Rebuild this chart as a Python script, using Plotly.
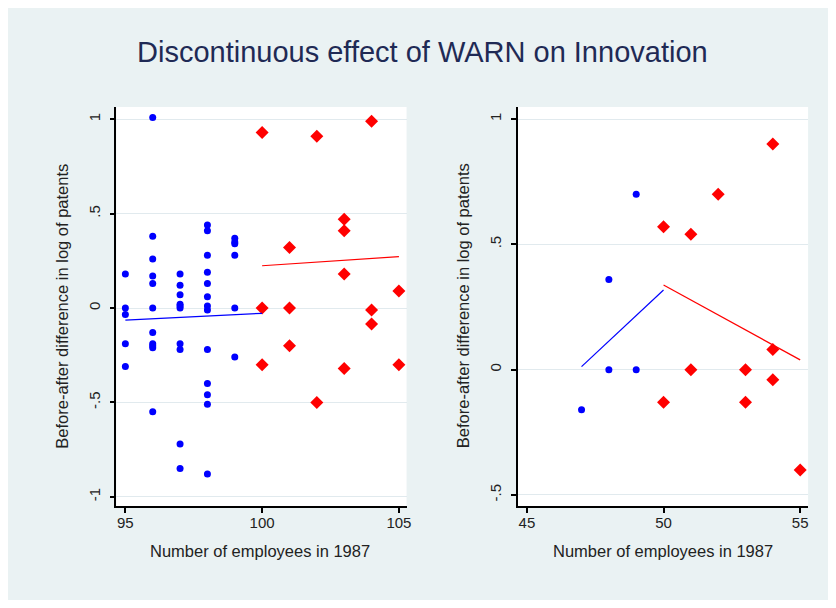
import plotly.graph_objects as go

# ---- Left panel data (firms around 100 employees) ----
left_blue_x = [95]*5 + [96]*11 + [97]*10 + [98]*13 + [99]*6
left_blue_y = [0.18, 0.0, -0.035, -0.19, -0.31,
               1.01, 0.38, 0.26, 0.17, 0.13, 0.0, -0.13, -0.19, -0.20, -0.21, -0.55,
               0.18, 0.12, 0.07, 0.02, 0.0, 0.01, -0.19, -0.22, -0.72, -0.85,
               0.44, 0.41, 0.28, 0.19, 0.13, 0.06, 0.01, -0.01, -0.22, -0.40, -0.46, -0.51, -0.88,
               0.37, 0.35, 0.34, 0.28, 0.0, -0.26]
left_red_x = [100, 100, 100, 101, 101, 101, 102, 102, 103, 103, 103, 103, 104, 104, 104, 105, 105]
left_red_y = [0.93, 0.0, -0.30, 0.32, 0.0, -0.20, 0.91, -0.50, 0.47, 0.41, 0.18, -0.32,
              0.99, -0.01, -0.085, 0.09, -0.30]
left_fit_blue_x = [95, 100]
left_fit_blue_y = [-0.064, -0.028]
left_fit_red_x = [100, 105]
left_fit_red_y = [0.224, 0.272]

# ---- Right panel data (firms around 50 employees) ----
right_blue_x = [47, 48, 48, 49, 49]
right_blue_y = [-0.16, 0.36, 0.0, 0.70, 0.0]
right_red_x = [50, 50, 51, 51, 52, 53, 53, 54, 54, 54, 55]
right_red_y = [0.57, -0.13, 0.54, 0.0, 0.70, 0.0, -0.13, 0.90, 0.08, -0.04, -0.40]
right_fit_blue_x = [47, 50]
right_fit_blue_y = [0.012, 0.318]
right_fit_red_x = [50, 55]
right_fit_red_y = [0.338, 0.039]

left_yticks = [-1, -0.5, 0, 0.5, 1]
left_yticktext = ["-1", "-.5", "0", ".5", "1"]
right_yticks = [-0.5, 0, 0.5, 1]
right_yticktext = ["-.5", "0", ".5", "1"]
left_xticks = [95, 100, 105]
right_xticks = [45, 50, 55]

title_text = "Discontinuous effect of WARN on Innovation"
xtitle = "Number of employees in 1987"
ytitle = "Before-after difference in log of patents"

BG = "#eaf2f3"
GRID = "#e1eaee"
FONT = "Liberation Sans, Arial, sans-serif"
BLUE = "#0000ff"
RED = "#ff0000"

fig = go.Figure()

def add_panel(bx, by, rx, ry, fbx, fby, frx, fry, xa, ya):
    fig.add_trace(go.Scatter(x=bx, y=by, mode="markers", xaxis=xa, yaxis=ya,
                             marker=dict(symbol="circle", size=7, color=BLUE), showlegend=False))
    fig.add_trace(go.Scatter(x=rx, y=ry, mode="markers", xaxis=xa, yaxis=ya,
                             marker=dict(symbol="diamond", size=10, color=RED), showlegend=False))
    fig.add_trace(go.Scatter(x=fbx, y=fby, mode="lines", xaxis=xa, yaxis=ya,
                             line=dict(color=BLUE, width=1.2), showlegend=False))
    fig.add_trace(go.Scatter(x=frx, y=fry, mode="lines", xaxis=xa, yaxis=ya,
                             line=dict(color=RED, width=1.2), showlegend=False))

add_panel(left_blue_x, left_blue_y, left_red_x, left_red_y,
          left_fit_blue_x, left_fit_blue_y, left_fit_red_x, left_fit_red_y, "x", "y")
add_panel(right_blue_x, right_blue_y, right_red_x, right_red_y,
          right_fit_blue_x, right_fit_blue_y, right_fit_red_x, right_fit_red_y, "x2", "y2")

# page has an 8px body margin; screen coordinates are converted to figure coordinates
OFF = 8
W, H = 836 - 2 * OFF, 608 - 2 * OFF
def px(xp):
    return (xp - OFF) / W
def py(yp):
    return 1 - (yp - OFF) / H

axis_common = dict(showline=True, linecolor="#000", linewidth=1.5, ticks="outside",
                   ticklen=5, tickwidth=1.5, tickcolor="#000", zeroline=False,
                   tickfont=dict(family=FONT, size=15, color="#222"))

fig.update_layout(
    width=W, height=H,
    margin=dict(l=0, r=0, t=0, b=0),
    paper_bgcolor=BG, plot_bgcolor="white",
    font=dict(family=FONT, color="#222"),
    xaxis=dict(domain=[px(117), px(409)], range=[94.67, 105.28], tickvals=left_xticks,
               showgrid=False, anchor="y", ticklabelstandoff=-3, **axis_common),
    yaxis=dict(domain=[py(506), py(107)], range=[-1.049, 1.065], tickvals=left_yticks,
               ticktext=left_yticktext, tickangle=-90, showgrid=True, gridcolor=GRID,
               gridwidth=1.2, anchor="x", ticklabelstandoff=4, **axis_common),
    xaxis2=dict(domain=[px(521), px(813)], range=[44.67, 55.29], tickvals=right_xticks,
                showgrid=False, anchor="y2", ticklabelstandoff=-3, **axis_common),
    yaxis2=dict(domain=[py(506), py(107)], range=[-0.544, 1.048], tickvals=right_yticks,
                ticktext=right_yticktext, tickangle=-90, showgrid=True, gridcolor=GRID,
                gridwidth=1.2, anchor="x2", ticklabelstandoff=4, **axis_common),
)

fig.add_annotation(text=title_text, x=px(425), y=py(52), xref="paper", yref="paper",
                   showarrow=False, font=dict(family=FONT, size=29, color="#1f2a55"),
                   xanchor="center", yanchor="middle")
for cx in (262, 667):
    fig.add_annotation(text=xtitle, x=px(cx), y=py(551), xref="paper", yref="paper",
                       showarrow=False, font=dict(family=FONT, size=16.5, color="#222"),
                       xanchor="center", yanchor="middle")
for cx in (62, 466):
    fig.add_annotation(text=ytitle, x=px(cx), y=py(306), xref="paper", yref="paper",
                       showarrow=False, textangle=-90, font=dict(family=FONT, size=16.5, color="#222"),
                       xanchor="center", yanchor="middle")

fig.write_html("out.html")
